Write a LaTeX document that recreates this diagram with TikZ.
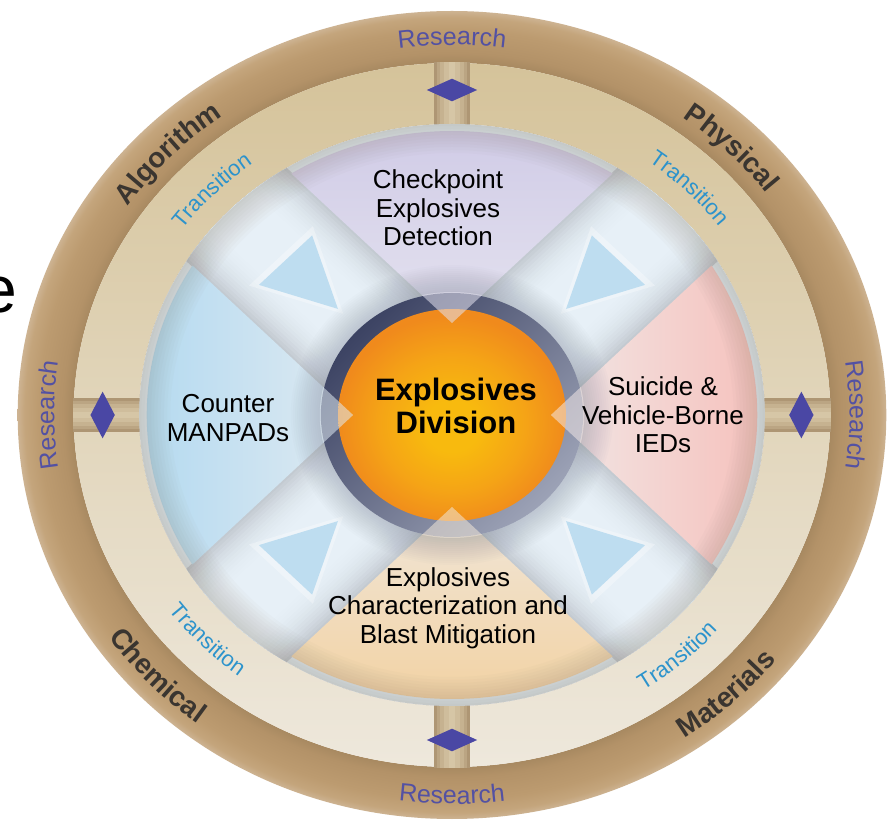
\documentclass[tikz,border=0pt]{standalone}
\usepackage{fontspec}
\setmainfont{Liberation Sans}
\usetikzlibrary{decorations.text}

% palette
\definecolor{brA}{HTML}{A68860}
\definecolor{brB}{HTML}{B39268}
\definecolor{brC}{HTML}{BC9B70}
\definecolor{brD}{HTML}{C4A57C}
\definecolor{brE}{HTML}{CDB392}
\definecolor{tanT}{HTML}{D5C39A}
\definecolor{tanB}{HTML}{EEE8DC}
\definecolor{stA}{HTML}{AE9674}
\definecolor{stB}{HTML}{BBA583}
\definecolor{stC}{HTML}{C6B290}
\definecolor{stD}{HTML}{CFBD9C}
\definecolor{stE}{HTML}{D6C6A6}
\definecolor{gem}{HTML}{4A47A4}
\definecolor{diskbg}{HTML}{E2EBF2}
\definecolor{bdEdge}{HTML}{C3CAD1}
\definecolor{bdMid}{HTML}{E7F0F7}
\definecolor{lavO}{HTML}{CFCAE6}
\definecolor{lavI}{HTML}{E4E2EF}
\definecolor{bluO}{HTML}{B2D9F0}
\definecolor{bluI}{HTML}{DFEAF2}
\definecolor{pnkO}{HTML}{F6BFBA}
\definecolor{pnkI}{HTML}{F1E7E6}
\definecolor{pchO}{HTML}{F3D1A0}
\definecolor{pchI}{HTML}{F0E6D8}
\definecolor{rimcol}{HTML}{8A7E6C}
\definecolor{halocol}{HTML}{6E7588}
\definecolor{rgD}{HTML}{3C4363}
\definecolor{rgL}{HTML}{9CA2B6}
\definecolor{orY}{HTML}{F8BA0E}
\definecolor{orM}{HTML}{F5A416}
\definecolor{orO}{HTML}{F08A1C}
\definecolor{arrowblue}{HTML}{B6DAEF}
\definecolor{resblue}{HTML}{5351A3}
\definecolor{ringdark}{HTML}{3A3530}
\definecolor{transblue}{HTML}{2C93CC}

% shadings
\pgfdeclareradialshading{brownring}{\pgfpointorigin}{%
  color(0bp)=(brA); color(21.7bp)=(brA); color(22.4bp)=(brB);
  color(23.8bp)=(brC); color(24.6bp)=(brD); color(25bp)=(brE); color(50bp)=(brE)}
\pgfdeclareradialshading{orangeball}{\pgfpoint{0bp}{-3bp}}{%
  color(0bp)=(orY); color(6bp)=(orY); color(16bp)=(orM);
  color(25bp)=(orO); color(50bp)=(orO)}

% fonts
\newcommand\ringboldfont{\fontsize{28pt}{28pt}\selectfont\bfseries}
\newcommand\researchfont{\fontsize{25pt}{25pt}\selectfont}
\newcommand\transfont{\fontsize{22pt}{22pt}\selectfont}

\tikzset{
  sectortext/.style={align=center, inner sep=0pt, text=black,
    font=\fontsize{26pt}{28.5pt}\selectfont},
  hubtext/.style={align=center, inner sep=0pt, text=black,
    font=\fontsize{31pt}{33.5pt}\selectfont\bfseries},
  ringword/.style={decorate, decoration={text along path, text align=center,
    text color=ringdark, text={|\ringboldfont|#1}}},
  researchword/.style={decorate, decoration={text along path, text align=center,
    text color=resblue, text={|\researchfont|Research}}},
  transword/.style={decorate, decoration={text along path, text align=center,
    text color=transblue, text={|\transfont|Transition}}},
}

\begin{document}
\begin{tikzpicture}[x=1pt,y=1pt]
\useasboundingbox (-452,-406) rectangle (440,415);
\fill[white] (-452,-406) rectangle (440,415);

% cropped letter at the left edge
\node[anchor=east, inner sep=0pt, font=\fontsize{66pt}{66pt}\selectfont] (edge) at (-435,120) {e};

\begin{scope}[xscale=1.075]
  % outer brown ring
  \shade[shading=brownring, even odd rule] (0,0) circle (404) (0,0) circle (352);
  % tan band
  \shade[top color=tanT, bottom color=tanB, even odd rule] (0,0) circle (352) (0,0) circle (291);
  % stems in the four gaps, with diamonds
  \foreach \a in {0,90,180,270} {
    \begin{scope}[rotate=\a]
      \foreach \w/\c in {17/stA,14/stB,11/stC,7/stD,3/stE}
        \fill[\c] (280,-\w) rectangle (353,\w);
      \fill[gem] (313.7,0) -- (325,23.4) -- (336.3,0) -- (325,-23.4) -- cycle;
    \end{scope}
  }
  % inner disk
  \fill[diskbg] (0,0) circle (291);
  % diagonal bands, lighter towards their middle line
  \begin{scope}
    \clip (0,0) circle (291);
    \foreach \a in {45,135} {
      \begin{scope}[rotate=\a]
        \foreach \i in {0,...,14} {
          \pgfmathsetmacro\w{66-3*\i}
          \pgfmathsetmacro\p{100*(1-(1-\i/14)^2)}
          \fill[bdMid!\p!bdEdge] (-300,-\w) rectangle (300,\w);
        }
      \end{scope}
    }
  \end{scope}
  % four sectors
  \shade[top color=lavO, bottom color=lavI]
    (0,92) -- (121.76:284) arc[start angle=121.76, end angle=58.24, radius=284] -- cycle;
  \shade[left color=bluO, right color=bluI]
    (-92,0) -- (211.76:284) arc[start angle=211.76, end angle=148.24, radius=284] -- cycle;
  \shade[left color=pnkI, right color=pnkO]
    (92,0) -- (-31.76:284) arc[start angle=-31.76, end angle=31.76, radius=284] -- cycle;
  \shade[top color=pchI, bottom color=pchO]
    (0,-92) -- (238.24:284) arc[start angle=238.24, end angle=301.76, radius=284] -- cycle;
  % bevel at the disk rim
  \foreach \r in {262,265,...,289}
    \fill[rimcol, fill opacity=0.03, even odd rule] (0,0) circle (291) (0,0) circle (\r);
  % arrows pointing to the hub
  \foreach \a in {45,135,225,315} {
    \begin{scope}[rotate=\a]
      \fill[white, fill opacity=0.3] (143,0) -- (225,42) -- (225,-42) -- cycle;
      \fill[arrowblue, fill opacity=0.85] (150,0) -- (219,35) -- (219,-35) -- cycle;
    \end{scope}
  }
  % soft halo round the hub
  \foreach \r in {124,126,...,150}
    \fill[halocol, fill opacity=0.022, even odd rule] (0,0) circle (\r) (0,0) circle (122);
  % hub
  \shade[top color=rgD, bottom color=rgL, shading angle=45] (0,0) circle (122);
  \shade[shading=orangeball] (0,0) circle (106);
  % sector tips over the hub
  \fill[lavI, fill opacity=0.55]
    (0,92) -- (103.1:123) arc[start angle=103.1, end angle=76.9, radius=123] -- cycle;
  \fill[bluI, fill opacity=0.55]
    (-92,0) -- (193.1:123) arc[start angle=193.1, end angle=166.9, radius=123] -- cycle;
  \fill[pnkI, fill opacity=0.55]
    (92,0) -- (-13.1:123) arc[start angle=-13.1, end angle=13.1, radius=123] -- cycle;
  \fill[pchI, fill opacity=0.55]
    (0,-92) -- (256.9:123) arc[start angle=256.9, end angle=283.1, radius=123] -- cycle;
\end{scope}

% labels inside
\node[sectortext] (cpd) at (-14,207) {Checkpoint\\Explosives\\Detection};
\node[sectortext] (mpd) at (-224,-3) {Counter\\MANPADs};
\node[sectortext] (ied) at (211,0) {Suicide \&\\Vehicle-Borne\\IEDs};
\node[sectortext] (ecb) at (-4,-193) {Explosives\\Characterization and\\Blast Mitigation};
\node[hubtext] (hub) at (4,9) {Explosives\\Division};

% curved words on the outer ring
\path[researchword] ({397.75*cos(130)},{370*sin(130)})
  arc[start angle=130, end angle=50, x radius=397.75, y radius=370];
\path[researchword] ({397.75*cos(220)},{370*sin(220)})
  arc[start angle=220, end angle=140, x radius=397.75, y radius=370];
\path[researchword] ({397.75*cos(40)},{370*sin(40)})
  arc[start angle=40, end angle=-40, x radius=397.75, y radius=370];
\path[researchword] ({418.2*cos(230)},{389*sin(230)})
  arc[start angle=230, end angle=310, x radius=418.2, y radius=389];

\path[ringword=Algorithm] ({394.5*cos(171)},{367*sin(171)})
  arc[start angle=171, end angle=101, x radius=394.5, y radius=367];
\path[ringword=Physical] ({394.5*cos(80)},{367*sin(80)})
  arc[start angle=80, end angle=10, x radius=394.5, y radius=367];
\path[ringword=Chemical] ({418.2*cos(188)},{389*sin(188)})
  arc[start angle=188, end angle=258, x radius=418.2, y radius=389];
\path[ringword=Materials] ({418.2*cos(278)},{389*sin(278)})
  arc[start angle=278, end angle=348, x radius=418.2, y radius=389];

% curved words on the tan band
\path[transword] ({335.4*cos(170.6)},{312*sin(170.6)})
  arc[start angle=170.6, end angle=100.6, x radius=335.4, y radius=312];
\path[transword] ({335.4*cos(80)},{312*sin(80)})
  arc[start angle=80, end angle=10, x radius=335.4, y radius=312];
\path[transword] ({352.6*cos(189)},{328*sin(189)})
  arc[start angle=189, end angle=259, x radius=352.6, y radius=328];
\path[transword] ({352.6*cos(276.6)},{328*sin(276.6)})
  arc[start angle=276.6, end angle=346.6, x radius=352.6, y radius=328];
\end{tikzpicture}
\end{document}
